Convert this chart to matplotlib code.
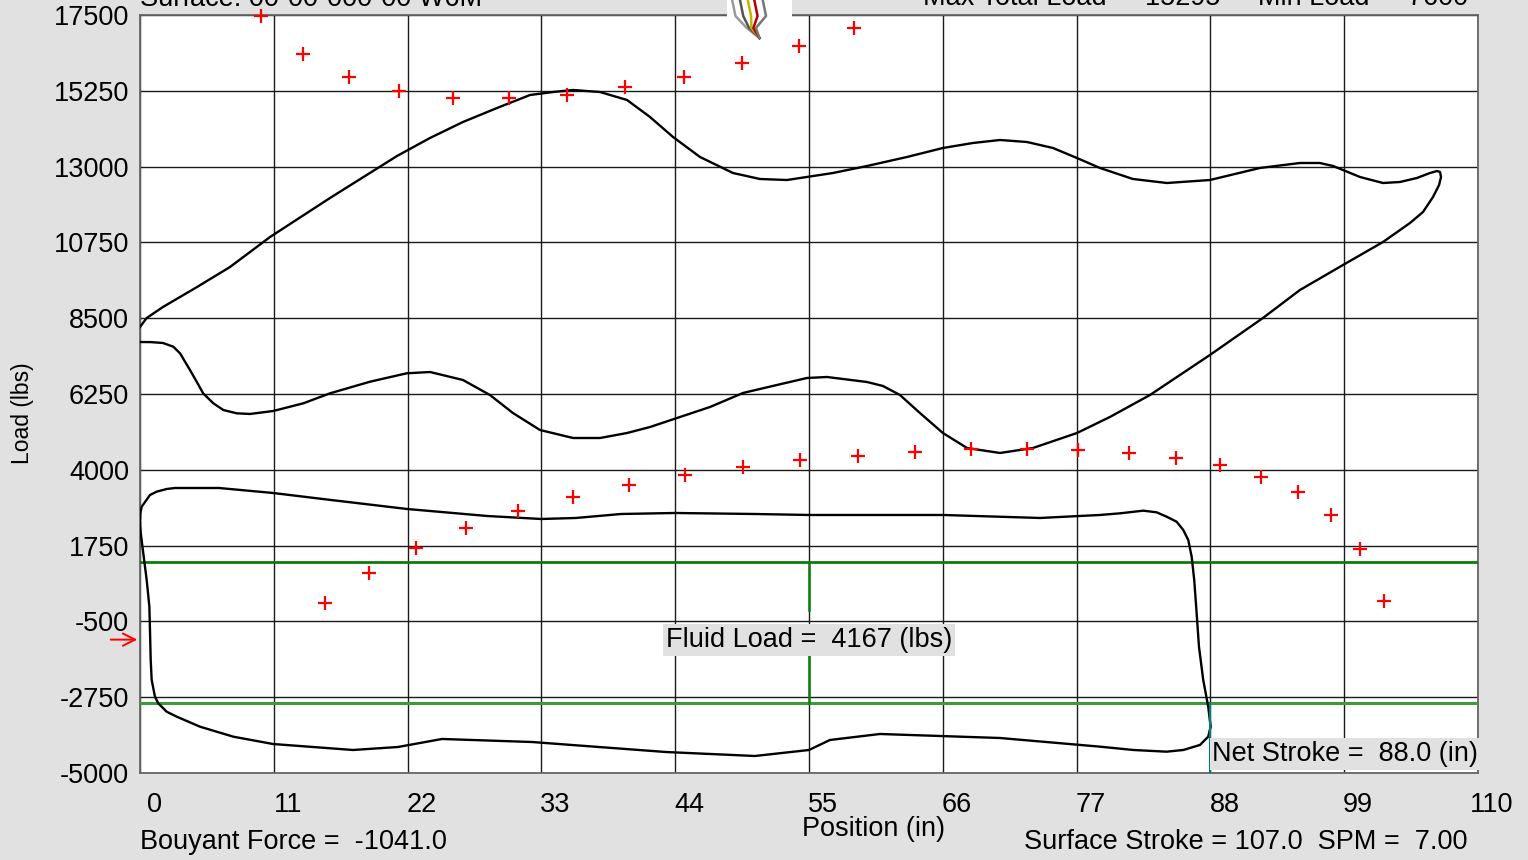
import matplotlib
matplotlib.use('Agg')
import matplotlib.pyplot as plt
from matplotlib.transforms import ScaledTranslation

plt.rcParams['font.family'] = ['Liberation Sans', 'DejaVu Sans']

# ---------------- data ----------------
x_ticks = [0, 11, 22, 33, 44, 55, 66, 77, 88, 99, 110]
y_ticks = [17500, 15250, 13000, 10750, 8500, 6250, 4000, 1750, -500, -2750, -5000]

# surface card (position in, load lbs) - closed loop
surf_pos = [0.00, 0.55, 1.89, 4.69, 7.40, 10.69, 15.62, 21.13, 23.84, 26.55, 29.35, 32.06, 33.95, 35.60,
            37.82, 40.04, 41.93, 43.82, 46.04, 48.75, 50.97, 53.19, 56.97, 59.77, 63.05, 66.01, 68.48,
            70.70, 72.92, 75.06, 77.03, 78.92, 81.63, 84.43, 87.96, 92.07, 95.36, 97.00, 98.08, 98.90,
            100.30, 102.19, 103.58, 104.98, 106.05, 106.63, 106.88, 106.96, 106.80, 106.30, 105.48,
            104.41, 102.19, 98.90, 95.36, 92.32, 87.96, 83.03, 79.74, 77.03, 73.41, 70.70, 67.99, 66.01,
            64.12, 62.48, 61.08, 59.77, 56.48, 54.83, 52.37, 49.57, 46.86, 44.15, 41.93, 40.04, 37.82,
            35.60, 32.88, 30.66, 28.77, 26.55, 23.84, 21.92, 18.91, 15.62, 13.43, 10.96, 9.04, 7.95,
            6.85, 6.03, 5.19, 4.66, 4.11, 3.29, 2.74, 1.89, 0.90, 0.00]
surf_load = [8239, 8506, 8833, 9426, 10020, 10910, 12068, 13315, 13849, 14324, 14739, 15125, 15214, 15274,
             15214, 14977, 14472, 13879, 13285, 12810, 12632, 12602, 12810, 13018, 13285, 13552, 13701,
             13790, 13730, 13552, 13255, 12959, 12632, 12513, 12602, 12959, 13107, 13107, 13018, 12899,
             12691, 12513, 12543, 12662, 12810, 12869, 12840, 12691, 12454, 12098, 11653,
             11326, 10762, 10079, 9337, 8506, 7408, 6220, 5568, 5092, 4647, 4499, 4647, 5092,
             5686, 6220, 6488, 6606, 6755, 6725, 6518, 6280, 5864, 5538, 5270, 5092, 4944,
             4944, 5182, 5686, 6220, 6666, 6903, 6864, 6615, 6270, 5974, 5746, 5657, 5677,
             5775, 5974, 6270, 6615, 6962, 7458, 7654, 7764, 7790, 7794]

# downhole card - closed loop
dh_pos = [0.00, 0.03, 0.14, 0.82, 1.37, 2.19, 2.88, 6.49, 10.93, 15.70, 21.95, 28.53, 32.97, 35.84,
          39.54, 43.98, 50.56, 55.00, 66.01, 73.99, 78.92, 80.57, 82.48, 83.58, 84.40, 85.22, 85.77,
          86.18, 86.46, 86.67, 86.87, 87.06, 87.41, 87.82, 88.02, 87.82, 87.14, 85.77, 84.40, 81.66,
          78.92, 70.70, 60.84, 56.72, 55.00, 50.56, 43.24, 32.23, 24.83, 21.21, 17.51, 10.93, 7.67,
          4.93, 3.02, 2.19, 1.50, 1.23, 0.96, 0.88, 0.82, 0.77, 0.55, 0.27, 0.06, 0.00]
dh_load = [2421, 2708, 2905, 3252, 3351, 3430, 3460, 3460, 3312, 3104, 2837, 2629, 2540, 2570,
           2688, 2718, 2688, 2659, 2659, 2570, 2659, 2708, 2787, 2738, 2608, 2460, 2213,
           1916, 1421, 729, -260, -1250, -2239, -3032, -3625, -3922, -4168, -4317, -4367, -4317,
           -4218, -3961, -3842, -4020, -4317, -4495, -4377, -4080, -3990, -4228, -4317, -4139, -3922,
           -3625, -3328, -3180, -2930, -2734, -2239, -1645, -754, -64, 729, 1522, 2124, 2421]

# limit markers (+)
upper_pos = [9.95, 13.4, 17.2, 21.3, 25.7, 30.3, 35.1, 39.9, 44.7, 49.5, 54.2, 58.7]
upper_load = [17470, 16342, 15660, 15244, 15036, 15036, 15125, 15363, 15660, 16075, 16580, 17114]
lower_pos = [15.2, 18.8, 22.7, 26.8, 31.1, 35.6, 40.2, 44.8, 49.6, 54.3, 59.0, 63.7, 68.3, 72.9,
             77.1, 81.3, 85.2, 88.8, 92.2, 95.2, 97.9, 100.3, 102.3]
lower_load = [48, 937, 1679, 2273, 2777, 3193, 3549, 3846, 4083, 4291, 4410, 4529, 4618, 4618,
              4588, 4499, 4351, 4143, 3787, 3342, 2659, 1650, 107]

fluid_top = 1250
fluid_bottom = -2917
fluid_load = 4167
fluid_x = 55
buoyant_force = -1041.0
net_stroke = 88.0
surface_stroke = 107.0
spm = 7.00

# ---------------- figure ----------------
BG = '#e1e1e1'
W, H = 1528, 860
fig = plt.figure(figsize=(W / 100, H / 100), dpi=100, facecolor=BG)
ax = fig.add_axes([140 / W, 87 / H, 1338 / W, 758 / H])
ax.set_facecolor('white')
ax.set_xlim(0, 110)
ax.set_ylim(-5000, 17500)

ax.set_xticks(x_ticks)
ax.set_xticklabels([str(v) for v in x_ticks])
ax.set_yticks(y_ticks)
ax.set_yticklabels([str(v) for v in y_ticks])
ax.tick_params(axis='both', length=0, labelsize=19.5, colors='black')
ax.tick_params(axis='x', pad=14)
ax.tick_params(axis='y', pad=8)
for lab in ax.get_xticklabels():
    lab.set_transform(lab.get_transform() + ScaledTranslation(0.14, 0, fig.dpi_scale_trans))
ax.grid(True, color='#1a1a1a', lw=1.0)
ax.set_axisbelow(True)
for sp in ax.spines.values():
    sp.set_color('#666666')
    sp.set_linewidth(1.3)

# curves
ax.plot(surf_pos, surf_load, color='black', lw=1.7, zorder=4, solid_joinstyle='round')
ax.plot(dh_pos, dh_load, color='black', lw=1.7, zorder=4, solid_joinstyle='round')

# markers
ax.plot(upper_pos, upper_load, '+', color='red', ms=10, mew=1.6, clip_on=False, zorder=5)
ax.plot(lower_pos, lower_load, '+', color='red', ms=10, mew=1.6, clip_on=False, zorder=5)

# fluid load lines
ax.axhline(fluid_top, color='#0a7d0a', lw=2.0, zorder=3)
ax.axhline(fluid_bottom, color='#3c9a3c', lw=2.2, zorder=3)
ax.plot([fluid_x, fluid_x], [fluid_top, -160], color='#0a7d0a', lw=1.8, zorder=3)
ax.plot([fluid_x, fluid_x], [-1500, fluid_bottom], color='#0a7d0a', lw=1.8, zorder=3)
ax.text(fluid_x, -1050, f'Fluid Load =  {fluid_load} (lbs)', ha='center', va='center', fontsize=19.5,
        zorder=6, bbox=dict(boxstyle='square,pad=0.1', fc=BG, ec='none'))

# net stroke
ax.plot([net_stroke, net_stroke], [fluid_bottom, -5000], color='#007b7b', lw=1.5, zorder=5)
ax.text(net_stroke + 0.15, -4430, f'Net Stroke =  {net_stroke:.1f} (in)', ha='left', va='center',
        fontsize=19.5, zorder=6, bbox=dict(boxstyle='square,pad=0.1', fc=BG, ec='none'))

# buoyant arrow
ax.annotate('', xy=(0, buoyant_force), xytext=(-32, 0), textcoords='offset pixels',
            arrowprops=dict(arrowstyle='->', color='red', lw=1.4, mutation_scale=22),
            annotation_clip=False)

# texts
fig.text(22 / W, 1 - 413 / H, 'Load (lbs)', rotation=90, ha='center', va='center', fontsize=16.5)
fig.text(873 / W, 1 - 829 / H, 'Position (in)', ha='center', va='center', fontsize=19.5)
fig.text(140 / W, 1 - 842 / H, f'Bouyant Force =  {buoyant_force:.1f}', ha='left', va='center',
         fontsize=19.5)
fig.text(1468 / W, 1 - 842 / H, f'Surface Stroke = {surface_stroke:.1f}  SPM =  {spm:.2f}',
         ha='right', va='center', fontsize=19.5)
fig.text(140 / W, 1 - 6 / H, 'Surface: 00-00-000-00 W6M', ha='left', va='baseline', fontsize=19.5)
fig.text(1468 / W, 1 - 5 / H, 'Max Total Load =  15295     Min Load =  7600', ha='right',
         va='baseline', fontsize=19.5)

# small logo at top
iax = fig.add_axes([727 / W, 1 - 40 / H, 65 / W, 40 / H])
iax.set_facecolor('white')
iax.set_xlim(0, 1)
iax.set_ylim(0, 1)
iax.axis('off')
iax.add_patch(plt.Rectangle((0, 0), 1, 1, color='white', transform=iax.transAxes))
logo_cols = ['#9a9a9a', '#555555', '#c8b400', '#b00000', '#777777']
logo_top = [0.08, 0.2, 0.32, 0.42, 0.55]
for c, t in zip(logo_cols, logo_top):
    iax.plot([t, t + 0.05, 0.28 + t * 0.3, 0.5], [1.0, 0.6, 0.3, 0.05], color=c, lw=1.8)

fig.savefig('out.png', dpi=100, facecolor=BG)
